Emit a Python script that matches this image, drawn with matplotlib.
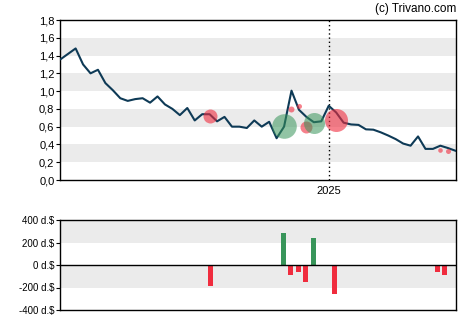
import matplotlib.pyplot as plt
import numpy as np

plt.rcParams['font.family'] = ['Liberation Sans', 'DejaVu Sans']

# weekly closing price (54 weeks, first week of 2025 at index 36)
price = [1.36, 1.42, 1.48, 1.30, 1.20, 1.24, 1.09, 1.01, 0.92, 0.89,
         0.91, 0.92, 0.87, 0.94, 0.85, 0.80, 0.73, 0.81, 0.67, 0.74,
         0.74, 0.66, 0.71, 0.60, 0.60, 0.585, 0.67, 0.60, 0.655, 0.47,
         0.60, 1.005, 0.79, 0.71, 0.65, 0.66, 0.835, 0.76, 0.645, 0.625,
         0.62, 0.57, 0.566, 0.536, 0.50, 0.46, 0.41, 0.386, 0.49, 0.35,
         0.35, 0.386, 0.36, 0.33]
week = np.arange(len(price))
year_tick = 36
year_label = "2025"

# insider trades: week, trade price, bubble radius, buy/sell
trade_week = [20, 30, 31, 32, 33, 34, 37, 51, 52]
trade_price = [0.72, 0.61, 0.80, 0.83, 0.60, 0.64, 0.67, 0.335, 0.33]
trade_size = [7, 12.3, 3, 2.5, 6, 10.5, 11.5, 2.3, 2.5]
trade_buy = [False, True, False, False, False, True, False, False, False]

# net insider volume (thousand $)
flow_week = [20.15, 29.95, 30.9, 31.95, 32.9, 33.9, 36.8, 50.6, 51.55]
flow_value = [-187, 284, -89, -62, -151, 240, -258, -62, -89]

navy = '#0e3a56'
red = '#f02c3e'
green = '#38955a'
band = '#ebebeb'

fig = plt.figure(figsize=(4.7, 3.25), dpi=100)
ax = fig.add_axes([60 / 470, 145 / 325, 396 / 470, 160 / 325])
ax2 = fig.add_axes([60 / 470, 15 / 325, 396 / 470, 90 / 325])

for lo in [0.2, 0.6, 1.0, 1.4]:
    ax.axhspan(lo, lo + 0.2, color=band, lw=0, zorder=0)
ax.axvline(year_tick, color='black', lw=1, ls=(0, (1, 2)), zorder=1)
ax.plot(week, price, color=navy, lw=1.5, zorder=3)
for w, p, r, b in zip(trade_week, trade_price, trade_size, trade_buy):
    ax.scatter(w, p, s=(r * 0.72 * 2) ** 2, color=green if b else red,
               alpha=0.55 if b else 0.6, lw=0, zorder=4)

ax.set_xlim(-0.1, 53.1)
ax.set_ylim(0, 1.8)
yt = np.arange(0, 1.81, 0.2)
ax.set_yticks(yt)
ax.set_yticklabels([f"{v:.1f}".replace('.', ',') for v in yt])
ax.set_xticks([year_tick])
ax.set_xticklabels([year_label])
ax.tick_params(axis='x', length=0, pad=4, labelsize=8)
ax.tick_params(axis='y', length=3, pad=1, labelsize=8)
for s in ax.spines.values():
    s.set_linewidth(1)

fig.text(456 / 470, 1 - 9 / 325, "(c) Trivano.com", ha='right', va='center',
         fontsize=8.5)

for lo in [200, -200]:
    ax2.axhspan(lo, lo + 200, color=band, lw=0, zorder=0)
ax2.axhline(0, color='black', lw=1, zorder=3)
ax2.bar(flow_week, flow_value, width=0.67,
        color=[green if v > 0 else red for v in flow_value], zorder=2)
ax2.set_xlim(-0.1, 53.1)
ax2.set_ylim(-400, 400)
bt = [400, 200, 0, -200, -400]
ax2.set_yticks(bt)
ax2.set_yticklabels([f"{v} d.$" for v in bt])
ax2.set_xticks([])
ax2.tick_params(axis='y', length=3, pad=1, labelsize=7)
for s in ax2.spines.values():
    s.set_linewidth(1)

fig.savefig('out.png', dpi=100)
